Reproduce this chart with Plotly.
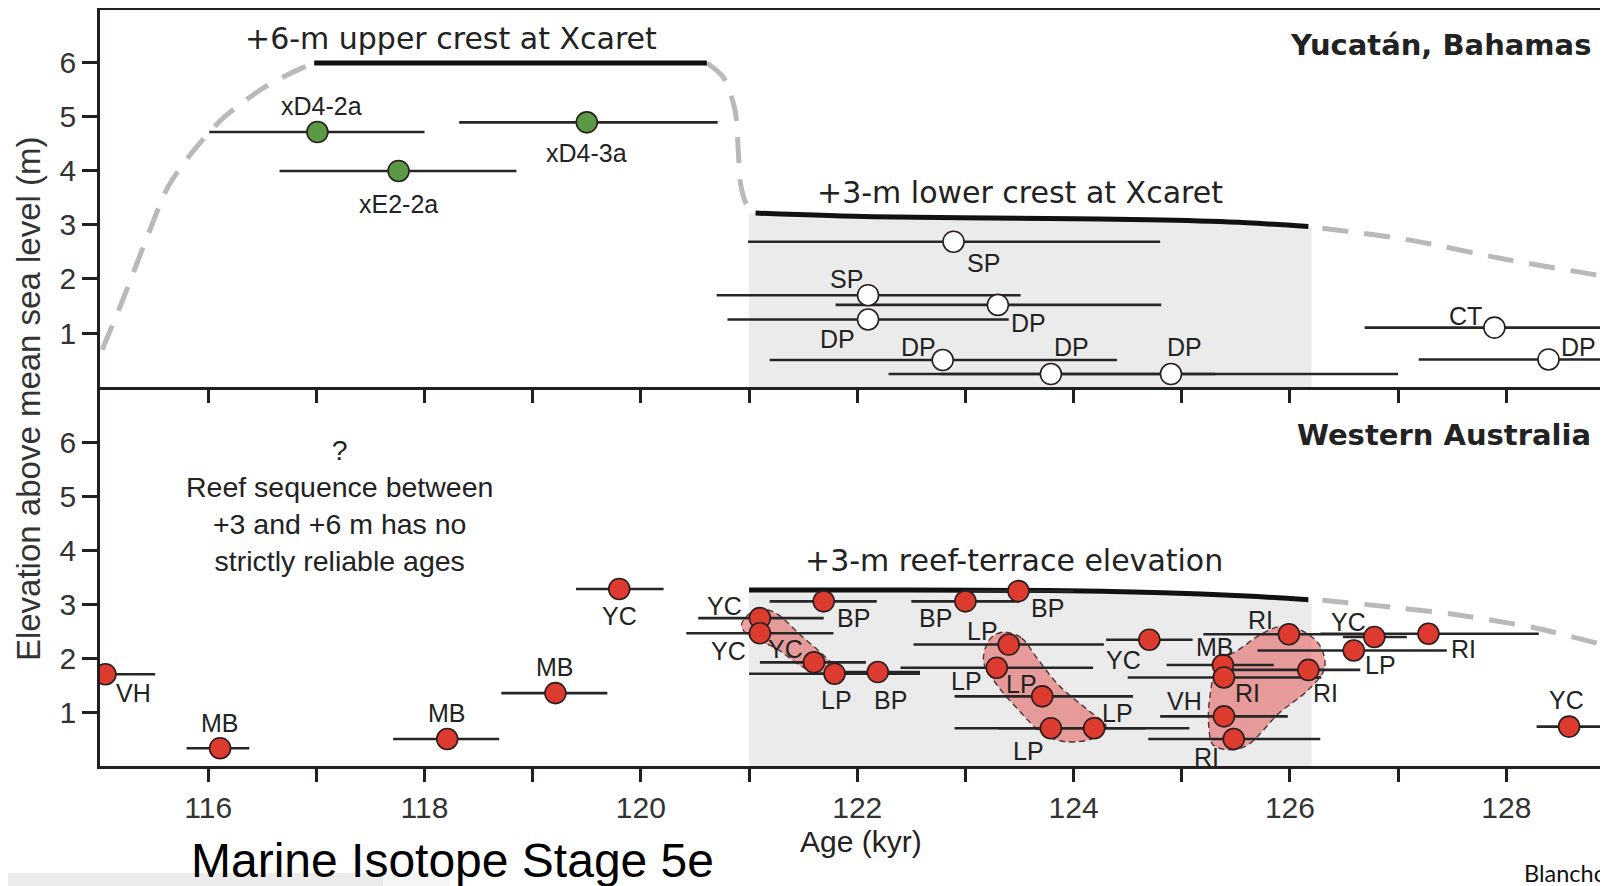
import plotly.graph_objects as go

# ---------------- DATA ----------------
# Top panel: Yucatán, Bahamas -- Xcaret corals (green)
xc_age = [117.01, 117.76, 119.50]
xc_elev = [4.72, 4.00, 4.90]
xc_lo = [116.01, 116.66, 118.32]
xc_hi = [118.00, 118.85, 120.71]
xc_name = ["xD4-2a", "xE2-2a", "xD4-3a"]

# Top panel: Bahamas corals (open circles)
bh_age = [122.89, 122.10, 123.30, 122.10, 122.79, 123.79, 124.90, 127.89, 128.39]
bh_elev = [2.69, 1.70, 1.52, 1.25, 0.50, 0.24, 0.24, 1.10, 0.51]
bh_lo = [120.99, 120.70, 121.80, 120.80, 121.19, 122.29, 122.77, 126.69, 127.19]
bh_hi = [124.80, 123.51, 124.81, 123.40, 124.40, 125.31, 127.00, 129.09, 129.59]
bh_name = ["SP", "SP", "DP", "DP", "DP", "DP", "DP", "CT", "DP"]

# Top panel sea-level curve pieces
rise_age = [115.02, 115.21, 115.45, 115.63, 115.87, 116.15, 116.53, 116.86, 116.98]
rise_elev = [0.69, 1.61, 2.85, 3.71, 4.39, 5.00, 5.56, 5.90, 5.98]
upper_age = [116.98, 120.61]
upper_elev = [6.00, 6.00]
fall_age = [120.61, 120.76, 120.87, 120.90, 120.92, 120.97, 121.06]
fall_elev = [6.00, 5.74, 5.13, 4.39, 3.78, 3.41, 3.22]
lower_age = [121.06, 122.15, 123.76, 124.83, 125.60, 126.17]
lower_elev = [3.22, 3.15, 3.12, 3.09, 3.04, 2.97]
tail_age = [126.30, 127.11, 128.03, 128.94]
tail_elev = [2.94, 2.72, 2.35, 2.04]

# Western Australia corals (red)
wa_age = [115.05, 116.11, 118.21, 119.21, 119.80, 121.10, 121.10, 121.69, 121.60, 121.79,
          122.19, 123.00, 123.49, 123.40, 123.29, 123.71, 123.79, 124.19, 124.70, 125.38,
          125.39, 126.17, 125.99, 126.78, 126.59, 127.28, 125.39, 125.48, 128.58]
wa_elev = [1.70, 0.33, 0.50, 1.35, 3.28, 2.74, 2.46, 3.05, 1.92, 1.71,
           1.74, 3.05, 3.24, 2.25, 1.82, 1.29, 0.70, 0.70, 2.34, 1.87,
           1.64, 1.78, 2.44, 2.39, 2.14, 2.45, 0.92, 0.50, 0.73]
wa_lo = [114.59, 115.80, 117.71, 118.71, 119.40, 120.53, 120.42, 121.19, 121.10, 121.00,
         121.80, 122.50, 122.98, 122.52, 122.40, 122.90, 122.90, 123.30, 124.30, 124.86,
         124.50, 125.47, 125.20, 126.49, 125.70, 126.28, 124.80, 124.69, 128.28]
wa_hi = [115.51, 116.38, 118.69, 119.69, 120.21, 121.69, 121.78, 122.18, 122.08, 122.58,
         122.58, 123.50, 124.00, 124.28, 124.18, 124.55, 124.67, 125.07, 125.10, 125.85,
         126.29, 126.65, 126.80, 127.08, 127.45, 128.30, 125.98, 126.28, 128.87]
wa_name = ["VH", "MB", "MB", "MB", "YC", "YC", "YC", "BP", "YC", "LP",
           "BP", "BP", "BP", "LP", "LP", "LP", "LP", "LP", "YC", "MB",
           "RI", "RI", "RI", "YC", "LP", "RI", "VH", "RI", "YC"]

# Western Australia reef-terrace line
wa_crest_age = [121.00, 122.50, 123.76, 124.83, 125.60, 126.17]
wa_crest_elev = [3.26, 3.26, 3.25, 3.21, 3.15, 3.08]
wa_tail_age = [126.30, 127.00, 127.51, 128.26, 128.94]
wa_tail_elev = [3.07, 2.93, 2.81, 2.56, 2.22]

# Shaded interval (kyr)
shade_start, shade_end = 121.00, 126.20

# Pink envelopes (age, elevation)
blob_a_age = [120.95, 121.08, 121.24, 121.49, 121.70, 121.79, 121.70, 121.51, 121.24, 121.00, 120.93]
blob_a_elev = [2.71, 2.91, 2.84, 2.40, 2.03, 1.82, 1.72, 1.82, 2.19, 2.40, 2.59]
blob_b_age = [123.36, 123.52, 123.65, 123.87, 124.13, 124.30, 124.19, 123.92, 123.71, 123.49, 123.30, 123.17, 123.19, 123.25]
blob_b_elev = [2.48, 2.37, 2.03, 1.48, 1.04, 0.73, 0.52, 0.45, 0.61, 1.04, 1.48, 1.91, 2.22, 2.40]
blob_c_age = [125.29, 125.45, 125.61, 125.90, 126.17, 126.32, 126.28, 126.12, 125.93, 125.74, 125.53, 125.34, 125.26, 125.25]
blob_c_elev = [0.39, 0.30, 0.39, 0.98, 1.41, 1.81, 2.22, 2.50, 2.59, 2.45, 2.16, 1.91, 1.29, 0.73]

# Label offsets (pixels: right, down)
xc_dx = [4, 0, 0]
xc_dy = [-26, 33, 31]
bh_dx = [30, -22, 31, -31, -24, 21, 14, -29, 30]
bh_dy = [21, -16, 18, 19, -13, -27, -27, -12, -12]
wa_dx = [28, 0, 0, 0, 0, -35, -31, 30, -28, 2,
         13, -30, 29, -26, -30, -21, -22, 23, -26, -8,
         24, 17, -28, -26, 27, 35, -39, -27, -3]
wa_dy = [19, -25, -26, -26, 27, -12, 18, 17, -13, 26,
         28, 17, 17, -14, 13, -12, 23, -15, 20, -18,
         16, 23, -14, -15, 15, 15, -15, 18, -27]

# ---------------- STYLE ----------------
FONT = "Liberation Sans, Arial, Helvetica, sans-serif"
WIDE = "DejaVu Sans, Liberation Sans, Arial, sans-serif"
INK = "#231f20"
GREY_DASH = "#b9b9b9"
SHADE = "#ebebeb"
RED = "#dd3b30"
GREEN = "#5a9a46"
AXW = 2.6

fig = go.Figure()


def add_line(x, y, xa, ya, color, width, dash=None, shape="spline"):
    fig.add_trace(go.Scatter(x=x, y=y, xaxis=xa, yaxis=ya, mode="lines",
                             line=dict(color=color, width=width, dash=dash, shape=shape, smoothing=0.8),
                             hoverinfo="skip", showlegend=False))


def add_shade(crest_x, crest_y, xa, ya):
    px = [shade_start, shade_start] + crest_x + [shade_end, shade_end]
    py = [0, crest_y[0]] + crest_y + [crest_y[-1], 0]
    fig.add_trace(go.Scatter(x=px, y=py, xaxis=xa, yaxis=ya, mode="lines", fill="toself",
                             fillcolor=SHADE, line=dict(width=0, color=SHADE),
                             hoverinfo="skip", showlegend=False))


def add_blob(x, y):
    fig.add_trace(go.Scatter(x=x + [x[0]], y=y + [y[0]], xaxis="x2", yaxis="y2", mode="lines",
                             fill="toself", fillcolor="rgba(228,110,110,0.65)",
                             line=dict(color="rgba(40,20,20,0.8)", width=1.4, dash="6px,4px", shape="spline", smoothing=1.0),
                             hoverinfo="skip", showlegend=False))


def add_points(age, elev, lo, hi, xa, ya, fill):
    fig.add_trace(go.Scatter(
        x=age, y=elev, xaxis=xa, yaxis=ya, mode="markers",
        marker=dict(size=21, color=fill, line=dict(color="#2a1e1e", width=1.6)),
        error_x=dict(type="data", symmetric=False,
                     array=[h - a for a, h in zip(age, hi)],
                     arrayminus=[a - l for a, l in zip(age, lo)],
                     thickness=2.6, width=0, color="#262626"),
        hoverinfo="skip", showlegend=False))


annotations = []


def add_labels(age, elev, names, dx, dy, xa, ya, size=25):
    for a, e, n, ox, oy in zip(age, elev, names, dx, dy):
        annotations.append(dict(x=a, y=e, xref=xa, yref=ya, text=n, showarrow=False,
                                xshift=ox, yshift=-oy, xanchor="center", yanchor="middle",
                                font=dict(family=FONT, size=size, color="#222222")))


# shading
add_shade(lower_age, lower_elev, "x", "y")
add_shade(wa_crest_age, wa_crest_elev, "x2", "y2")

# top panel curve
add_line(rise_age, rise_elev, "x", "y", GREY_DASH, 5, "26px,16px")
add_line(fall_age, fall_elev, "x", "y", GREY_DASH, 5, "26px,16px")
add_line(tail_age, tail_elev, "x", "y", GREY_DASH, 5, "26px,16px")
add_line(upper_age, upper_elev, "x", "y", "#111111", 5, None, "linear")
add_line(lower_age, lower_elev, "x", "y", "#111111", 5)

# bottom panel curve
add_line(wa_tail_age, wa_tail_elev, "x2", "y2", GREY_DASH, 5, "26px,16px")
add_line(wa_crest_age, wa_crest_elev, "x2", "y2", "#111111", 5)

# pink envelopes
add_blob(blob_a_age, blob_a_elev)
add_blob(blob_b_age, blob_b_elev)
add_blob(blob_c_age, blob_c_elev)

# points
add_points(xc_age, xc_elev, xc_lo, xc_hi, "x", "y", GREEN)
add_points(bh_age, bh_elev, bh_lo, bh_hi, "x", "y", "white")
add_points(wa_age, wa_elev, wa_lo, wa_hi, "x2", "y2", RED)

add_labels(xc_age, xc_elev, xc_name, xc_dx, xc_dy, "x", "y")
add_labels(bh_age, bh_elev, bh_name, bh_dx, bh_dy, "x", "y")
add_labels(wa_age, wa_elev, wa_name, wa_dx, wa_dy, "x2", "y2")

# text annotations
big = dict(family=WIDE, size=30, color="#222222")
bold = dict(family=WIDE, size=29, color="#222222")
C = dict(showarrow=False, xanchor="center", yanchor="middle")
annotations += [
    dict(x=118.24, y=6.46, xref="x", yref="y", text="+6-m upper crest at Xcaret", font=big, **C),
    dict(x=123.50, y=3.61, xref="x", yref="y", text="+3-m lower crest at Xcaret", font=big, **C),
    dict(x=123.45, y=3.81, xref="x2", yref="y2", text="+3-m reef-terrace elevation", font=big, **C),
    dict(x=128.80, y=6.33, xref="x", yref="y", text="<b>Yucatán, Bahamas</b>", showarrow=False,
         xanchor="right", yanchor="middle", font=bold),
    dict(x=128.80, y=6.13, xref="x2", yref="y2", text="<b>Western Australia</b>", showarrow=False,
         xanchor="right", yanchor="middle", font=bold),
    dict(x=117.21, y=4.82, xref="x2", yref="y2",
         text="?<br>Reef sequence between<br>+3 and +6 m has no<br>strictly reliable ages",
         font=dict(family=FONT, size=28.5, color="#222222"), **C),
    dict(x=-0.0477, y=0.4854, xref="paper", yref="paper", text="Elevation above mean sea level (m)",
         textangle=-90, font=dict(family=FONT, size=33, color="#333333"), **C),
    dict(x=0.5046, y=-0.1005, xref="paper", yref="paper", text="Age (kyr)",
         font=dict(family=FONT, size=30, color="#222222"), **C),
    dict(x=0.234, y=-0.125, xref="paper", yref="paper", text="Marine Isotope Stage 5e",
         font=dict(family=FONT, size=48, color="#000000"), **C),
    dict(x=0.943, y=-0.1415, xref="paper", yref="paper", text="Blanchon et al. (2009)", showarrow=False,
         xanchor="left", yanchor="middle", font=dict(family="Lato, Liberation Sans, Arial, sans-serif", size=23.5, color="#111111")),
]

x_range = [115.0, 128.94]
tick_x = list(range(116, 130))
tick_txt = [str(t) if t % 2 == 0 else "" for t in tick_x]
axis_common = dict(showline=True, linecolor=INK, linewidth=AXW, ticks="outside", tickcolor=INK,
                   tickwidth=AXW, showgrid=False, zeroline=False, automargin=False)

# The page body adds an 8 px offset, so the figure is 8 px smaller and margins shifted.
fig.update_layout(
    width=1600, height=878,
    margin=dict(l=92, r=0, t=2, b=120, pad=0),
    paper_bgcolor="white", plot_bgcolor="white",
    showlegend=False,
    xaxis=dict(domain=[0, 1], range=x_range, anchor="y", tickvals=tick_x, showticklabels=False,
               ticklen=13, mirror=True, **axis_common),
    yaxis=dict(domain=[0.5013, 1], range=[0, 6.98], anchor="x", tickvals=[1, 2, 3, 4, 5, 6], ticklen=15,
               tickfont=dict(family=FONT, size=30, color="#333333"), **axis_common),
    xaxis2=dict(domain=[0, 1], range=x_range, anchor="y2", tickvals=tick_x, ticktext=tick_txt, ticklen=13,
                tickfont=dict(family=FONT, size=30, color="#333333"), **axis_common),
    yaxis2=dict(domain=[0, 0.5013], range=[0, 7.02], anchor="x2", tickvals=[1, 2, 3, 4, 5, 6], ticklen=15,
                tickfont=dict(family=FONT, size=30, color="#333333"), **axis_common),
    annotations=annotations,
    shapes=[
        dict(type="rect", xref="paper", yref="paper", x0=-0.0663, x1=0.1877, y0=-0.1587, y1=-0.1415,
             fillcolor="#ebebeb", line=dict(width=0), layer="below"),
        dict(type="rect", xref="paper", yref="paper", x0=0.1877, x1=0.232, y0=-0.1587, y1=-0.1415,
             fillcolor="#f5f5f5", line=dict(width=0), layer="below"),
    ],
)

fig.write_html("out.html")
